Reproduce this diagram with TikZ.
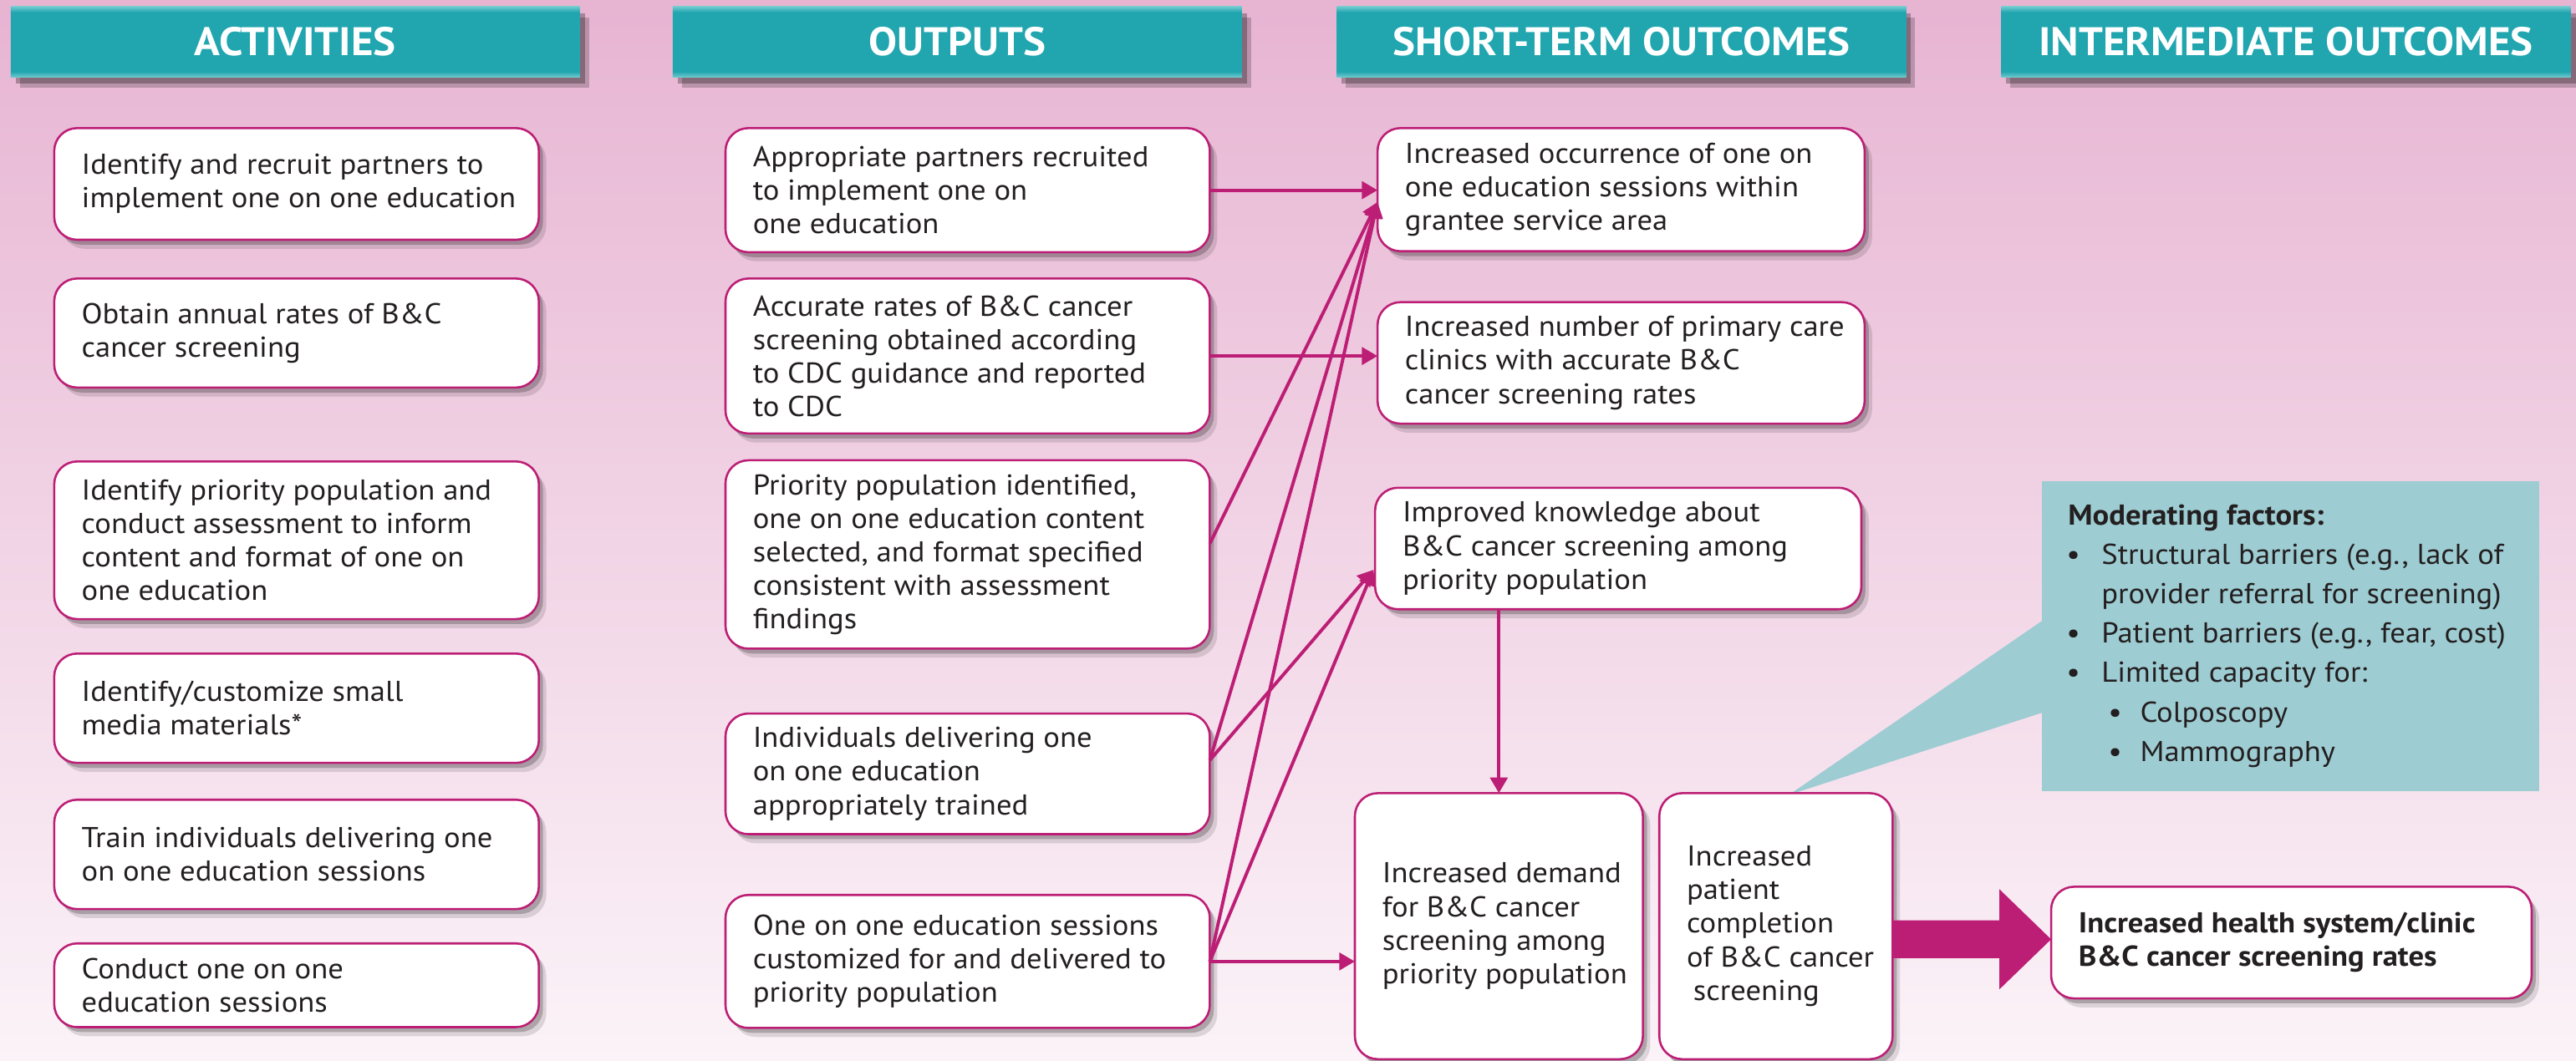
\documentclass[tikz,border=0pt]{standalone}
\usepackage{fontspec}
\setmainfont{PT Sans}[FakeStretch=1.065]
\usetikzlibrary{arrows.meta,calc,shadows}
\definecolor{mag}{RGB}{189,30,117}
\definecolor{tealh}{RGB}{33,166,176}
\definecolor{tealhl}{RGB}{112,202,206}
\definecolor{modc}{RGB}{157,204,210}
\definecolor{txt}{RGB}{35,31,32}
\definecolor{bgtop}{RGB}{231,180,210}
\definecolor{bgbot}{RGB}{251,243,248}
\pgfdeclareverticalshading{hdrshade}{100bp}{color(0bp)=(tealhl); color(25bp)=(tealhl); color(29bp)=(tealh); color(71bp)=(tealh); color(75bp)=(tealhl); color(100bp)=(tealhl)}
\newcommand\mybox[6]{%
 \pgfmathsetmacro\bxw{#4-#2}\pgfmathsetmacro\bxh{#5-#3}%
 \node[box, minimum width=\bxw pt, minimum height=\bxh pt, anchor=north west] (#1) at (#2,#3) {};
 \node[btxt, anchor=west] (#1t) at ($(#1.west)+(16.5,0)$) {#6};}
\begin{document}
\begin{tikzpicture}[x=1pt,y=-1pt,
 hdr/.style={shading=hdrshade, minimum width=346.5pt, minimum height=43pt, inner sep=0pt, outer sep=0pt,
   text=white, font=\fontsize{24.3}{26}\selectfont\bfseries,
   general shadow={fill=black, opacity=.28, shadow xshift=3pt, shadow yshift=-4pt},
   general shadow={fill=black, opacity=.2, shadow xshift=5.5pt, shadow yshift=-6.5pt}},
 box/.style={draw=mag, line width=1.3pt, fill=white, rounded corners=14pt, inner sep=0pt, outer sep=0pt,
   general shadow={fill=black, opacity=.22, shadow xshift=2.5pt, shadow yshift=-3pt},
   general shadow={fill=black, opacity=.12, shadow xshift=4.5pt, shadow yshift=-5.5pt}},
 btxt/.style={inner sep=0pt, align=left, text=txt, font=\fontsize{17.5}{20.4}\selectfont},
 mtxt/.style={inner sep=0pt, anchor=base west, text=txt, font=\fontsize{17.5}{20.4}\selectfont},
 arr/.style={draw=mag, line width=2pt, -{Triangle[length=9.5pt,width=10.5pt]}}]
\useasboundingbox (0,0) rectangle (1568,646);
\shade[top color=bgtop,bottom color=bgbot] (0,0) rectangle (1568,646);
% headers
\node[hdr] (H1) at (179.75,25.5) {ACTIVITIES};
\node[hdr] (H2) at (582.75,25.5) {OUTPUTS};
\node[hdr] (H3) at (987,25.5) {SHORT-TERM OUTCOMES};
\node[hdr] (H4) at (1391.5,25.5) {INTERMEDIATE OUTCOMES};
% moderating factors
\node[fill=modc, minimum width=302.6pt, minimum height=189pt, inner sep=0pt, outer sep=0pt, anchor=north west] (mod) at (1243,293) {};
\coordinate (tip) at (1089,484);
\fill[modc] ($(mod.north west)!0.45!(mod.south west)$) -- (tip) -- ($(mod.north west)!0.746!(mod.south west)$) -- cycle;
\node[mtxt] (m0) at (1258.6,319.6) {\bfseries Moderating factors:};
\node[mtxt] (m1) at (1279,343.6) {\llap{\textbullet\hspace{13pt}}Structural barriers (e.g., lack of};
\node[mtxt] (m2) at (1279,367.6) {provider referral for screening)};
\node[mtxt] (m3) at (1279,391.6) {\llap{\textbullet\hspace{13pt}}Patient barriers (e.g., fear, cost)};
\node[mtxt] (m4) at (1279,415.6) {\llap{\textbullet\hspace{13pt}}Limited capacity for:};
\node[mtxt] (m5) at (1302.5,439.6) {\llap{\textbullet\hspace{11pt}}Colposcopy};
\node[mtxt] (m6) at (1302.5,463.6) {\llap{\textbullet\hspace{11pt}}Mammography};
% activities
\mybox{A1}{33}{78}{328}{146}{Identify and recruit partners to\\implement one on one education}
\mybox{A2}{33}{169.6}{328}{236}{Obtain annual rates of B\&C\\cancer screening}
\mybox{A3}{33}{281}{328}{377}{Identify priority population and\\conduct assessment to inform\\content and format of one on\\one education}
\mybox{A4}{33}{398}{328}{464.6}{Identify/customize small\\media materials*}
\mybox{A5}{33}{487}{328}{553.6}{Train individuals delivering one\\on one education sessions}
\mybox{A6}{33}{574.5}{328}{625.5}{Conduct one on one\\education sessions}
% outputs
\mybox{O1}{441.6}{78}{736.4}{153.6}{Appropriate partners recruited\\to implement one on\\one education}
\mybox{O2}{441.6}{169.6}{736.4}{264}{Accurate rates of B\&C cancer\\screening obtained according\\to CDC guidance and reported\\to CDC}
\mybox{O3}{441.6}{280.3}{736.4}{395}{Priority population identified,\\one on one education content\\selected, and format specified\\consistent with assessment\\findings}
\mybox{O4}{441.6}{434.5}{736.4}{508}{Individuals delivering one\\on one education\\appropriately trained}
\mybox{O5}{441.6}{545}{736.4}{626}{One on one education sessions\\customized for and delivered to\\priority population}
% short-term
\mybox{S1}{838.5}{78}{1135}{153}{Increased occurrence of one on\\one education sessions within\\grantee service area}
\mybox{S2}{838.5}{184}{1135}{258}{Increased number of primary care\\clinics with accurate B\&C\\cancer screening rates}
\mybox{S3}{837}{297}{1133}{371}{Improved knowledge about\\B\&C cancer screening among\\priority population}
\mybox{S4}{824.7}{483}{1000}{645}{Increased demand\\for B\&C cancer\\screening among\\priority population}
\mybox{S5}{1010}{483}{1152}{645}{Increased\\patient\\completion\\of B\&C cancer\\\hspace*{4pt}screening}
% intermediate
\mybox{I1}{1248.5}{540}{1541}{608}{\bfseries Increased health system/clinic\\\bfseries B\&C cancer screening rates}
% connectors
\coordinate (c1) at ($(S1.west)+(0,7.5)$);
\coordinate (c3) at ($(S3.west)+(-1,13)$);
\draw[arr] (O1.east) -- (O1.east -| S1.west);
\draw[arr] (O2.east) -- (O2.east -| S2.west);
\draw[arr] ($(O3.east)+(0,-6.6)$) -- (c1);
\draw[arr] ($(O4.east)+(0,-8.3)$) -- (c1);
\draw[arr] (O5.east) -- (c1);
\draw[arr] ($(O4.east)+(0,-8.3)$) -- (c3);
\draw[arr] (O5.east) -- (c3);
\draw[arr] (O5.east) -- (O5.east -| S4.west);
\draw[arr] (S3.south -| S4.north) -- (S4.north);
% big arrow
\coordinate (bt) at ($(I1.west)+(0,-2)$);
\coordinate (bs) at (S5.east |- bt);
\fill[mag] ($(bs)+(0,-11.5)$) -- ($(bt)+(-31.5,-11.5)$) -- ($(bt)+(-31.5,-30.5)$) -- (bt) -- ($(bt)+(-31.5,30.5)$) -- ($(bt)+(-31.5,11.5)$) -- ($(bs)+(0,11.5)$) -- cycle;
\end{tikzpicture}
\end{document}
